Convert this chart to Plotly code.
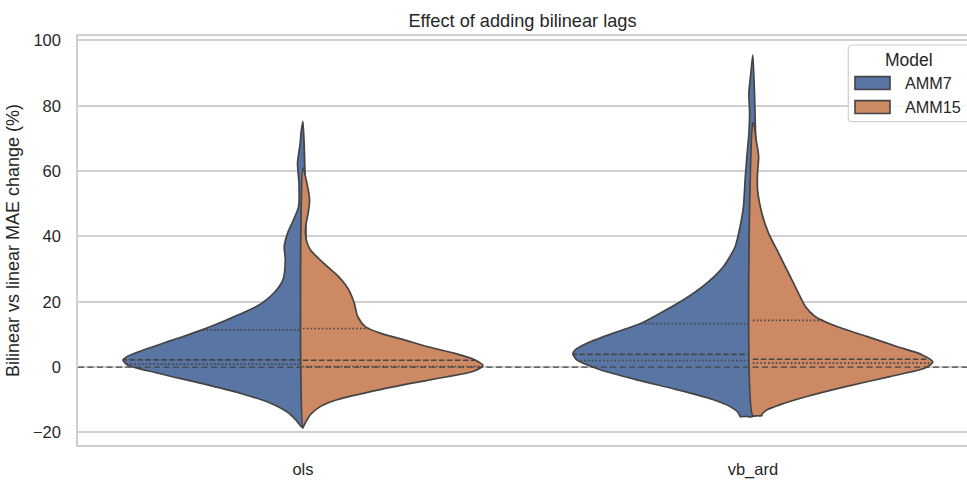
import numpy as np
import plotly.graph_objects as go

# ---------------- data ----------------
categories = ["ols", "vb_ard"]
models = ["AMM7", "AMM15"]

# density profiles: y value (%) and relative density (max = 1)
ols_amm7_y = [75.2, 72.0, 68.6, 62.4, 56.3, 49.2, 45.1, 41.0, 36.9, 32.8, 26.7, 22.6, 18.6, 14.5,
              11.4, 8.4, 5.3, 3.2, 2.2, 0.7, -1.8, -4.9, -8.0, -11.0, -14.1, -16.6, -18.6]
ols_amm7_d = [0.0, 0.01, 0.015, 0.03, 0.022, 0.024, 0.052, 0.085, 0.104, 0.098, 0.111, 0.163, 0.256,
              0.422, 0.561, 0.717, 0.883, 0.978, 1.0, 0.978, 0.811, 0.572, 0.35, 0.183, 0.079, 0.033, 0.0]

ols_amm15_y = [61.0, 56.3, 51.2, 47.1, 43.0, 39.0, 35.9, 31.8, 27.7, 23.7, 19.6, 15.5, 12.4, 10.4,
               8.4, 6.3, 4.3, 2.2, 0.5, -1.3, -3.9, -6.9, -10.0, -12.1, -14.6, -17.1, -18.3]
ols_amm15_d = [0.0, 0.022, 0.037, 0.029, 0.015, 0.018, 0.041, 0.115, 0.198, 0.254, 0.285, 0.304, 0.346,
               0.429, 0.559, 0.689, 0.837, 0.957, 1.0, 0.948, 0.706, 0.428, 0.189, 0.096, 0.041, 0.013, 0.0]

vb_amm7_y = [95.6, 90.0, 83.9, 77.8, 71.6, 64.5, 57.3, 49.2, 43.0, 36.9, 30.8, 25.7, 20.6, 16.5,
             13.5, 10.4, 7.3, 5.3, 4.1, 2.2, -0.8, -3.9, -6.9, -10.0, -12.1, -14.1, -15.1]
vb_amm7_d = [0.0, 0.011, 0.022, 0.018, 0.022, 0.033, 0.043, 0.052, 0.071, 0.098, 0.163, 0.256, 0.385,
             0.515, 0.617, 0.774, 0.922, 0.987, 1.0, 0.978, 0.848, 0.644, 0.422, 0.218, 0.126, 0.079, 0.071]

vb_amm15_y = [74.7, 69.6, 64.5, 59.4, 54.3, 47.1, 41.0, 34.9, 28.8, 22.6, 18.6, 15.5, 12.4, 9.4,
              6.3, 3.8, 1.6, -0.3, -2.9, -5.9, -9.0, -11.5, -13.1, -14.6, -14.9]
vb_amm15_d = [0.004, 0.018, 0.032, 0.026, 0.026, 0.05, 0.087, 0.143, 0.198, 0.254, 0.291, 0.346, 0.467,
              0.633, 0.8, 0.939, 1.0, 0.957, 0.761, 0.522, 0.3, 0.152, 0.078, 0.05, 0.05]

# quartiles (Q1, median, Q3) per category / model
ols_amm7_q = [0.9, 2.2, 11.4]
ols_amm15_q = [0.2, 2.1, 11.8]
vb_amm7_q = [2.0, 3.9, 13.3]
vb_amm15_q = [1.2, 2.4, 14.3]

yticks = [-20, 0, 20, 40, 60, 80, 100]

# ---------------- styling ----------------
colors = {"AMM7": "#5875A4", "AMM15": "#CC8963"}
EDGE = "#444444"
GRID = "#D0D0D0"
TXT = "#262626"
FONT = "Liberation Sans, Arial, sans-serif"
HALF = 0.4

# plot-area geometry in pixels (for legend placement)
PL, PR, PT, PB = 78, 967, 36, 445.3


def px2paper_x(v):
    return (v - PL) / (PR - PL)


def px2paper_y(v):
    return (PB - v) / (PB - PT)


groups = [
    (0, "AMM7", ols_amm7_y, ols_amm7_d, ols_amm7_q),
    (0, "AMM15", ols_amm15_y, ols_amm15_d, ols_amm15_q),
    (1, "AMM7", vb_amm7_y, vb_amm7_d, vb_amm7_q),
    (1, "AMM15", vb_amm15_y, vb_amm15_d, vb_amm15_q),
]

fig = go.Figure()
for c, model, ys, ds, qs in groups:
    side = -1 if model == "AMM7" else 1
    ys = np.array(ys, dtype=float)
    ds = np.array(ds, dtype=float)
    xs = c + side * HALF * ds
    px = list(xs)
    py = list(ys)
    if ds[-1] != 0:
        # flat (cut) bottom
        px += [c + side * HALF * ds[-1] * 0.5, c]
        py += [ys[-1], ys[-1]]
    px.append(c)
    py.append(ys[0])
    if ds[0] != 0:
        px.append(xs[0])
        py.append(ys[0])
    fig.add_trace(go.Scatter(
        x=px, y=py, mode="lines", fill="toself",
        fillcolor=colors[model],
        line=dict(color=EDGE, width=1.7, shape="spline", smoothing=0.7),
        name=model, legendgroup=model,
        showlegend=False, hoverinfo="skip",
    ))
    # inner quartile lines
    order = np.argsort(ys)
    for i, q in enumerate(qs):
        w = np.interp(q, ys[order], ds[order]) * HALF
        dash = "5.5px,2.5px" if i == 1 else "1.6px,2.2px"
        fig.add_trace(go.Scatter(
            x=[c, c + side * w], y=[q, q], mode="lines",
            line=dict(color=EDGE, width=1.6, dash=dash),
            showlegend=False, hoverinfo="skip",
        ))

# reference line at 0
fig.add_shape(type="line", xref="paper", x0=0, x1=1, yref="y", y0=0, y1=0,
              line=dict(color=EDGE, width=1.4, dash="6px,3.5px"), layer="above")

# ---------------- legend (drawn like the matplotlib one) ----------------
bx0, by0, bx1, by1 = 848.3, 45, 985, 121.7
r = 4
path = (f"M {px2paper_x(bx0 + r)},{px2paper_y(by0)} L {px2paper_x(bx1)},{px2paper_y(by0)} "
        f"L {px2paper_x(bx1)},{px2paper_y(by1)} L {px2paper_x(bx0 + r)},{px2paper_y(by1)} "
        f"Q {px2paper_x(bx0)},{px2paper_y(by1)} {px2paper_x(bx0)},{px2paper_y(by1 - r)} "
        f"L {px2paper_x(bx0)},{px2paper_y(by0 + r)} "
        f"Q {px2paper_x(bx0)},{px2paper_y(by0)} {px2paper_x(bx0 + r)},{px2paper_y(by0)} Z")
fig.add_shape(type="path", path=path, xref="paper", yref="paper",
              fillcolor="rgba(255,255,255,0.8)", line=dict(color=GRID, width=1.2), layer="above")
fig.add_annotation(text="Model", xref="paper", yref="paper", x=px2paper_x(908.5), y=px2paper_y(60),
                   xanchor="center", yanchor="middle", showarrow=False,
                   font=dict(size=17.5, color=TXT, family=FONT))
patch_tops = [76.7, 100.7]
for model, top in zip(models, patch_tops):
    fig.add_shape(type="rect", xref="paper", yref="paper",
                  x0=px2paper_x(855), x1=px2paper_x(890), y0=px2paper_y(top), y1=px2paper_y(top + 12.8),
                  fillcolor=colors[model], line=dict(color=EDGE, width=1.6), layer="above")
    fig.add_annotation(text=model, xref="paper", yref="paper", x=px2paper_x(902.5),
                       y=px2paper_y(top + 6.6), xanchor="left", yanchor="middle", showarrow=False,
                       font=dict(size=16.2, color=TXT, family=FONT))

fig.update_layout(
    width=967, height=480,
    margin=dict(l=PL, r=0, t=PT, b=480 - 445),
    paper_bgcolor="white", plot_bgcolor="white",
    font=dict(family=FONT, color=TXT, size=16.5),
    showlegend=False,
    title=dict(text="Effect of adding bilinear lags", x=0.5, xref="paper",
               y=1 - 21 / 480, yref="container", yanchor="middle",
               font=dict(size=18.2, color=TXT)),
    xaxis=dict(
        range=[-0.5, 1.476], tickmode="array", tickvals=[0, 1], ticktext=categories,
        showgrid=False, zeroline=False, showline=True, mirror=True,
        linecolor=GRID, linewidth=1.5, ticks="", ticklabelstandoff=8,
        tickfont=dict(size=16.5, color=TXT),
    ),
    yaxis=dict(
        range=[-23.85, 101.35], tickmode="array", tickvals=yticks,
        ticktext=[("\u2212" + str(-v)) if v < 0 else str(v) for v in yticks],
        showgrid=True, gridcolor=GRID, gridwidth=1.5, zeroline=False,
        showline=True, mirror=False, linecolor=GRID, linewidth=1.5,
        ticks="", ticklabelstandoff=12,
        tickfont=dict(size=16.5, color=TXT),
        title=dict(text="Bilinear vs linear MAE change (%)", standoff=9,
                   font=dict(size=18, color=TXT)),
    ),
)

fig.write_html("out.html")
